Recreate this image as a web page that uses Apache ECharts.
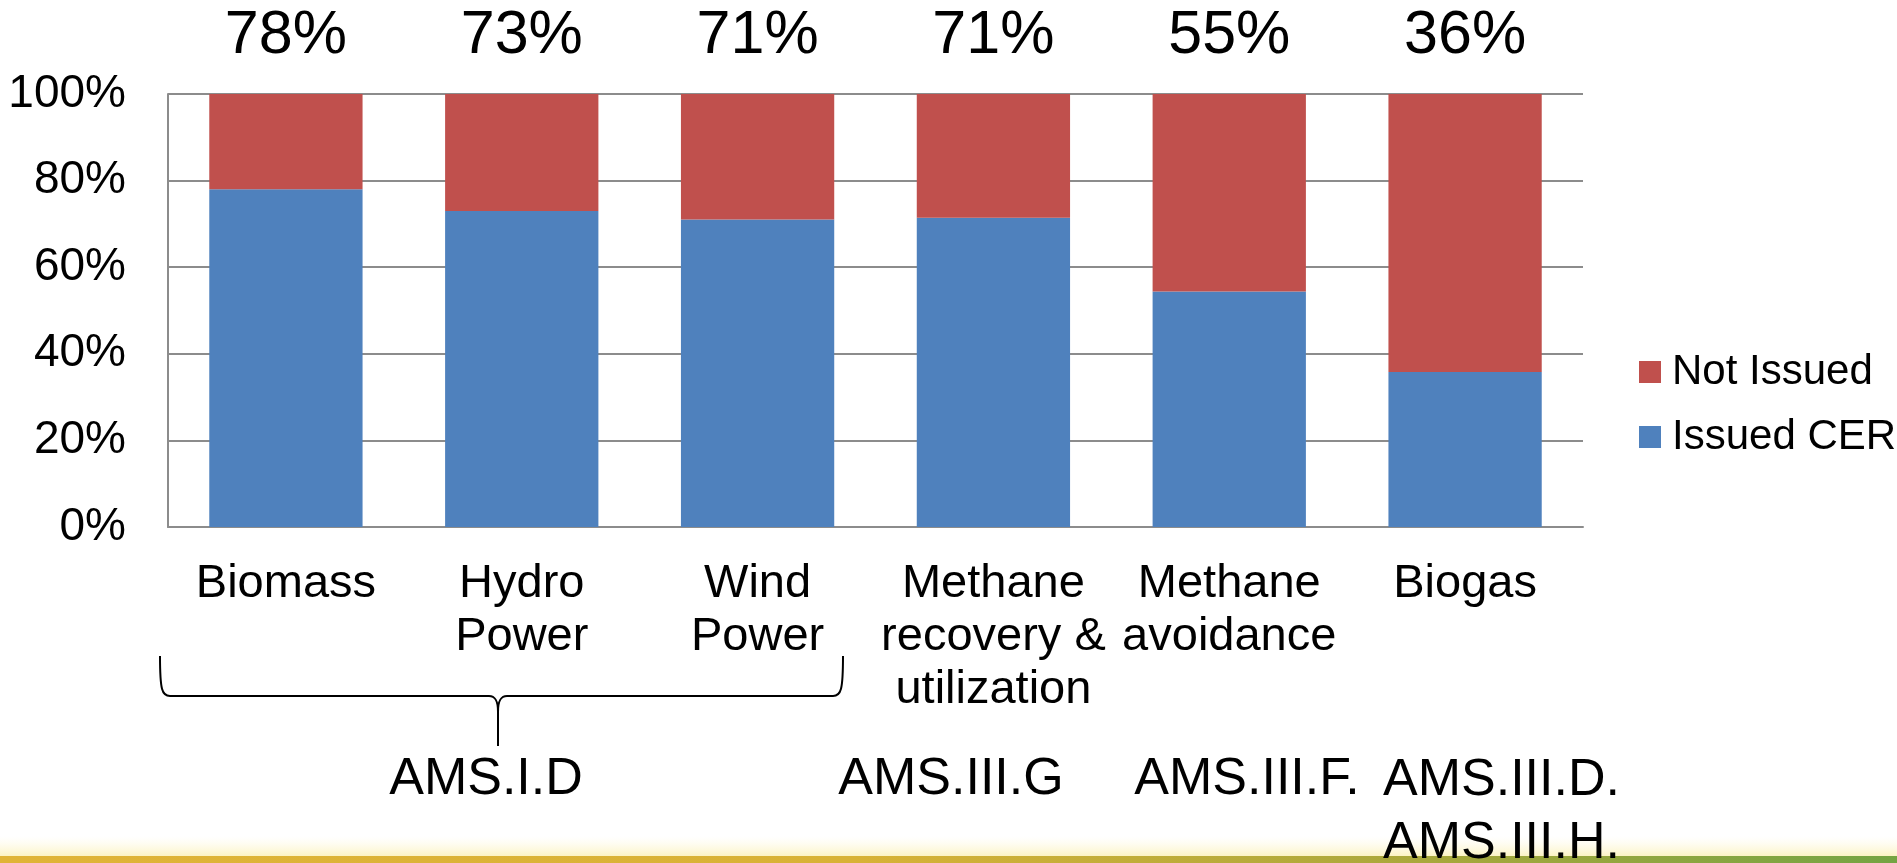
<!DOCTYPE html>
<html>
<head>
<meta charset="utf-8">
<script src="https://cdn.jsdelivr.net/npm/echarts@6/dist/echarts.min.js"></script>
<style>
  html, body { margin: 0; padding: 0; background: #fff; }
  #main { width: 1897px; height: 863px; }
</style>
</head>
<body>
<div id="main"></div>
<script>
// categories and values
var categories = ['Biomass', 'Hydro\nPower', 'Wind\nPower', 'Methane\nrecovery &\nutilization', 'Methane\navoidance', 'Biogas'];
var issuedCER = [78, 73, 71, 71.4, 54.4, 35.8];
var notIssued = [22, 27, 29, 28.6, 45.6, 64.2];
var topLabels = ['78%', '73%', '71%', '71%', '55%', '36%'];
var yTicks = [0, 20, 40, 60, 80, 100];
var methodLabels = ['AMS.I.D', 'AMS.III.G', 'AMS.III.F.', 'AMS.III.D.\nAMS.III.H.'];

var FONT = '"Liberation Sans", Arial, sans-serif';

var chartDom = document.getElementById('main');
var myChart = echarts.init(chartDom);

var braceStyle = { stroke: '#000', lineWidth: 2, fill: null };

var option = {
    animation: false,
    backgroundColor: '#fff',
    grid: { left: 168, right: 314, top: 94, bottom: 336 },
    legend: {
        orient: 'vertical',
        left: 1634,
        top: 346,
        data: ['Not Issued', 'Issued CER'],
        icon: 'rect',
        itemWidth: 22,
        itemHeight: 22,
        itemGap: 23,
        textStyle: { fontFamily: FONT, fontSize: 42, lineHeight: 42, color: '#000', padding: [0, 0, 0, 6] }
    },
    xAxis: {
        type: 'category',
        data: categories,
        axisLine: { show: true, lineStyle: { color: '#8c8c8c', width: 2 } },
        axisTick: { show: false },
        axisLabel: { interval: 0, margin: 31, fontFamily: FONT, fontSize: 47, lineHeight: 53, color: '#000' }
    },
    yAxis: {
        type: 'value',
        min: yTicks[0],
        max: yTicks[yTicks.length - 1],
        interval: 20,
        axisLine: { show: true, lineStyle: { color: '#8c8c8c', width: 2 } },
        axisTick: { show: false },
        splitLine: { lineStyle: { color: '#8c8c8c', width: 2 } },
        axisLabel: { margin: 42, fontFamily: FONT, fontSize: 46, color: '#000', formatter: '{value}%' }
    },
    series: [
        {
            name: 'Issued CER',
            type: 'bar',
            stack: 'total',
            data: issuedCER,
            barCategoryGap: '35%',
            itemStyle: { color: '#4f81bd' }
        },
        {
            name: 'Not Issued',
            type: 'bar',
            stack: 'total',
            data: notIssued,
            barCategoryGap: '35%',
            itemStyle: { color: '#c0504d' },
            label: {
                show: true,
                position: 'top',
                distance: 27,
                fontFamily: FONT,
                fontSize: 61,
                lineHeight: 61,
                color: '#000',
                formatter: function (p) { return topLabels[p.dataIndex]; }
            }
        }
    ],
    graphic: [
        // soft glow above the footer line
        {
            type: 'rect', z: 1,
            shape: { x: 0, y: 836, width: 1897, height: 20 },
            style: {
                fill: new echarts.graphic.LinearGradient(0, 0, 0, 1, [
                    { offset: 0, color: 'rgba(255,250,220,0)' },
                    { offset: 1, color: 'rgba(250,238,170,0.7)' }
                ])
            }
        },
        // footer line, gold to green
        {
            type: 'rect', z: 2,
            shape: { x: 0, y: 856, width: 1897, height: 7 },
            style: {
                fill: new echarts.graphic.LinearGradient(0, 0, 1, 0, [
                    { offset: 0, color: '#e0b437' },
                    { offset: 0.45, color: '#d8b236' },
                    { offset: 0.75, color: '#a9a83c' },
                    { offset: 1, color: '#74a443' }
                ])
            }
        },
        // brace under the first three categories
        { type: 'bezierCurve', z: 5, shape: { x1: 160, y1: 656, cpx1: 160, cpy1: 690, cpx2: 162, cpy2: 696, x2: 170, y2: 696 }, style: braceStyle },
        { type: 'line', z: 5, shape: { x1: 170, y1: 696, x2: 489, y2: 696 }, style: braceStyle },
        { type: 'bezierCurve', z: 5, shape: { x1: 489, y1: 696, cpx1: 495, cpy1: 696, cpx2: 498, cpy2: 700, x2: 498, y2: 712 }, style: braceStyle },
        { type: 'line', z: 5, shape: { x1: 498, y1: 712, x2: 498, y2: 746 }, style: braceStyle },
        { type: 'bezierCurve', z: 5, shape: { x1: 843, y1: 656, cpx1: 843, cpy1: 690, cpx2: 841, cpy2: 696, x2: 833, y2: 696 }, style: braceStyle },
        { type: 'line', z: 5, shape: { x1: 833, y1: 696, x2: 507, y2: 696 }, style: braceStyle },
        { type: 'bezierCurve', z: 5, shape: { x1: 507, y1: 696, cpx1: 501, cpy1: 696, cpx2: 498, cpy2: 700, x2: 498, y2: 712 }, style: braceStyle },
        {
            type: 'text', z: 10, x: 486, y: 780,
            style: { text: methodLabels[0], font: '52px ' + FONT, fill: '#000', align: 'center', verticalAlign: 'middle' }
        },
        {
            type: 'text', z: 10, x: 951, y: 780,
            style: { text: methodLabels[1], font: '52px ' + FONT, fill: '#000', align: 'center', verticalAlign: 'middle' }
        },
        {
            type: 'text', z: 10, x: 1247, y: 780,
            style: { text: methodLabels[2], font: '52px ' + FONT, fill: '#000', align: 'center', verticalAlign: 'middle' }
        },
        {
            type: 'text', z: 10, x: 1383, y: 749,
            style: { text: methodLabels[3], font: '52px ' + FONT, fill: '#000', align: 'left', verticalAlign: 'top', lineHeight: 63 }
        }
    ]
};

option && myChart.setOption(option);
</script>
</body>
</html>
